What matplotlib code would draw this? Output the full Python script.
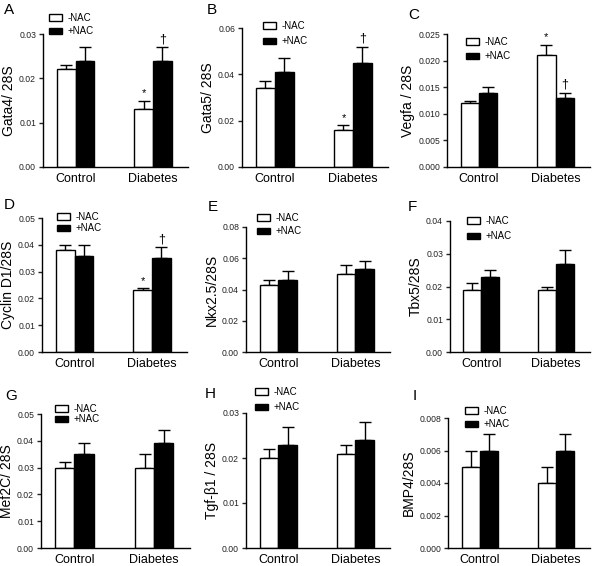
import numpy as np
import matplotlib
matplotlib.use("Agg")
import matplotlib.pyplot as plt
from matplotlib.ticker import FormatStrFormatter

plt.rcParams.update({
    "font.family"     : ["Liberation Sans", "DejaVu Sans"],
    "axes.linewidth"  : 1.0,
    "ytick.major.size": 3,
    "ytick.major.width": 1.0,
    "ytick.labelsize" : 6.2,
})

# ── Data (rows: -NAC, +NAC ; cols: Control, Diabetes) ────────
groups     = ["Control", "Diabetes"]
treatments = ["-NAC", "+NAC"]

gata4_mean = [[0.022, 0.013], [0.024, 0.024]]
gata4_sem  = [[0.001, 0.002], [0.003, 0.003]]
gata5_mean = [[0.034, 0.016], [0.041, 0.045]]
gata5_sem  = [[0.003, 0.002], [0.006, 0.007]]
vegfa_mean = [[0.012, 0.021], [0.014, 0.013]]
vegfa_sem  = [[0.0005, 0.002], [0.001, 0.001]]
ccnd1_mean = [[0.038, 0.023], [0.036, 0.035]]
ccnd1_sem  = [[0.002, 0.001], [0.004, 0.004]]
nkx25_mean = [[0.043, 0.050], [0.046, 0.053]]
nkx25_sem  = [[0.003, 0.006], [0.006, 0.005]]
tbx5_mean  = [[0.019, 0.019], [0.023, 0.027]]
tbx5_sem   = [[0.002, 0.001], [0.002, 0.004]]
mef2c_mean = [[0.030, 0.030], [0.035, 0.039]]
mef2c_sem  = [[0.002, 0.005], [0.004, 0.005]]
tgfb1_mean = [[0.020, 0.021], [0.023, 0.024]]
tgfb1_sem  = [[0.002, 0.002], [0.004, 0.004]]
bmp4_mean  = [[0.005, 0.004], [0.006, 0.006]]
bmp4_sem   = [[0.001, 0.001], [0.001, 0.001]]

letters = ["A", "B", "C", "D", "E", "F", "G", "H", "I"]
ylabels = ["Gata4/ 28S", "Gata5/ 28S", "Vegfa / 28S",
           "Cyclin D1/28S", "Nkx2.5/28S", "Tbx5/28S",
           "Mef2C/ 28S", "Tgf-\u03b21 / 28S", "BMP4/28S"]
y_max   = [0.03, 0.06, 0.025, 0.05, 0.08, 0.04, 0.05, 0.03, 0.008]
y_step  = [0.01, 0.02, 0.005, 0.01, 0.02, 0.01, 0.01, 0.01, 0.002]
y_fmt   = ["%.2f", "%.2f", "%.3f", "%.2f", "%.2f", "%.2f", "%.2f", "%.2f", "%.3f"]
# significance marks on the Diabetes bars (-NAC, +NAC)
marks   = [("*", "\u2020")] * 4 + [None] * 5

means = [gata4_mean, gata5_mean, vegfa_mean, ccnd1_mean, nkx25_mean,
         tbx5_mean, mef2c_mean, tgfb1_mean, bmp4_mean]
sems  = [gata4_sem, gata5_sem, vegfa_sem, ccnd1_sem, nkx25_sem,
         tbx5_sem, mef2c_sem, tgfb1_sem, bmp4_sem]

# ── Layout (pixels in a 600x566 canvas) ───────────────────────
W, H = 600, 566
# axes box: x0, x1, ytop, ybottom
boxes = [(43, 188, 34, 167), (242, 388, 28, 167), (447, 590, 34, 167),
         (42, 187, 218, 352), (246, 390, 227, 352), (450, 590, 221, 352),
         (41, 190, 414, 548), (246, 390, 413, 548), (448, 590, 418, 548)]
legend_at = [(49, 13), (263, 21), (466, 37), (57, 212), (257, 213),
             (467, 216), (55, 404), (255, 387), (465, 406)]
legend_gap = [0.35, 0.55, 0.45, 0.15, 0.35, 0.55, 0.05, 0.55, 0.35]
letter_at = [(4, 3), (207, 3), (408, 8), (4, 198), (208, 200),
             (408, 200), (5, 389), (205, 387), (413, 389)]

colors = ["white", "black"]
bar_w  = 0.24
x      = np.arange(len(groups))

fig = plt.figure(figsize=(W / 100, H / 100), dpi=100)

for i in range(9):
    x0, x1, yt, yb = boxes[i]
    ax = fig.add_axes([x0 / W, 1 - yb / H, (x1 - x0) / W, (yb - yt) / H])

    for j, tr in enumerate(treatments):
        m = np.array(means[i][j])
        s = np.array(sems[i][j])
        pos = x + (j - 0.5) * bar_w
        ax.bar(pos, m, width=bar_w, color=colors[j], edgecolor="black",
               linewidth=1.0, label=tr, zorder=2)
        ax.errorbar(pos, m, yerr=[np.zeros_like(s), s], fmt="none",
                    ecolor="black", elinewidth=1.0, capsize=4.5,
                    capthick=1.0, zorder=1)
        if marks[i] is not None:
            ax.annotate(marks[i][j], xy=(pos[1], m[1] + s[1]),
                        xytext=(0, 1.5), textcoords="offset points",
                        ha="center", va="bottom",
                        fontsize=8 if j == 0 else 9, annotation_clip=False)

    ax.set_xlim(-0.42, 1.45)
    ax.set_ylim(0, y_max[i])
    ax.set_yticks(np.arange(0, y_max[i] + y_step[i] / 2, y_step[i]))
    ax.yaxis.set_major_formatter(FormatStrFormatter(y_fmt[i]))
    ax.set_xticks(x)
    ax.set_xticklabels(groups, fontsize=9)
    ax.tick_params(axis="x", length=0, pad=4)
    ax.tick_params(axis="y", colors="#222222", pad=2)
    ax.spines["top"].set_visible(False)
    ax.spines["right"].set_visible(False)
    ax.set_ylabel(ylabels[i], fontsize=10, labelpad=2.5)

    lx, ly = legend_at[i]
    ax.legend(loc="upper left", bbox_to_anchor=(lx / W, 1 - ly / H),
              bbox_transform=fig.transFigure, frameon=False, fontsize=7,
              borderpad=0, borderaxespad=0, handlelength=1.35,
              handleheight=0.7, handletextpad=0.6,
              labelspacing=legend_gap[i])

    tx, ty = letter_at[i]
    fig.text(tx / W, 1 - ty / H, letters[i], fontsize=11,
             ha="left", va="top")

fig.savefig("out.png", dpi=100)
